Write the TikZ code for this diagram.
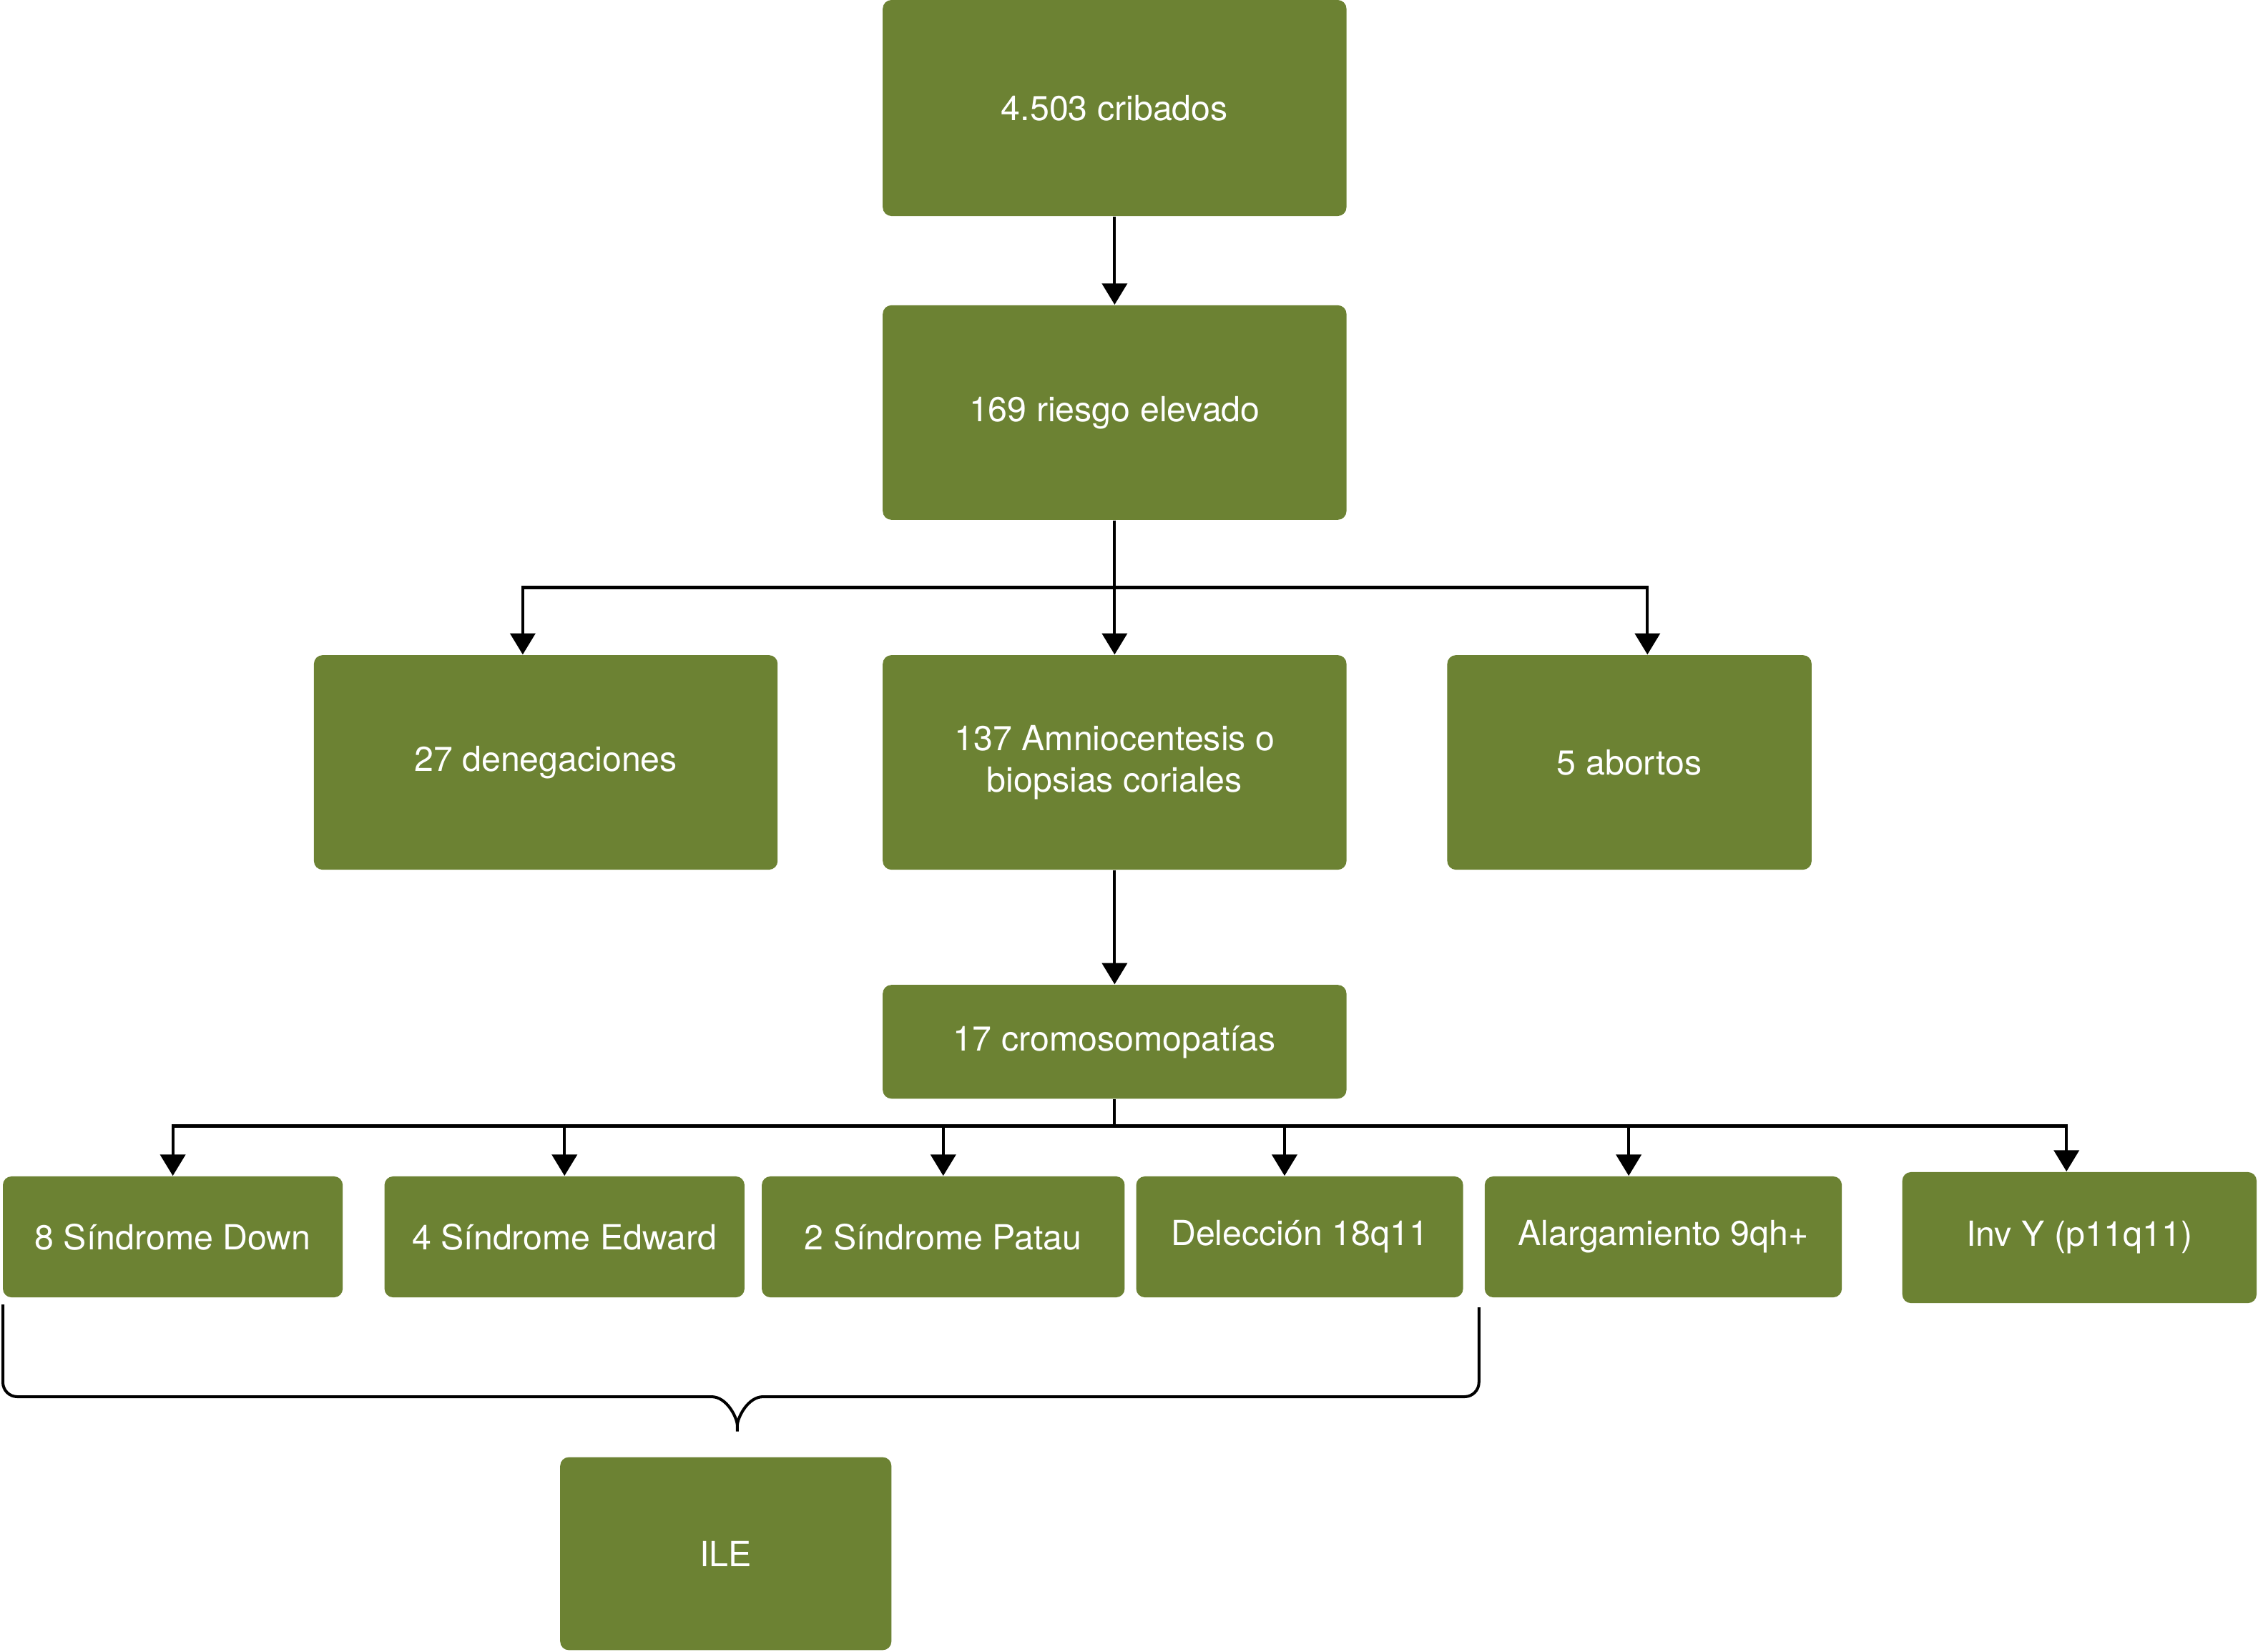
\documentclass[tikz,border=0pt]{standalone}
\usepackage{fontspec}
\setmainfont{TeX Gyre Heros}
\usetikzlibrary{arrows.meta}
\definecolor{boxgreen}{RGB}{108,130,51}
\tikzset{
  box/.style={shape=rectangle,rounded corners=3pt,fill=boxgreen,text=white,inner sep=0pt,align=center,font=\fontsize{12}{14.5}\selectfont},
  link/.style={line width=1pt,draw=black},
  flow/.style={link,-{Triangle[width=8.7pt,length=7.4pt]}},
  brace/.style={line width=1pt,draw=black,rounded corners=5pt}
}

\begin{document}
\begin{tikzpicture}[x=0.5pt,y=-0.5pt]
      \useasboundingbox (0,0) rectangle (1568,1147);
      % main column
      \node[box,minimum width=161pt,minimum height=75pt] (cribados) at (774,75) {4.503 cribados};
      \node[box,minimum width=161pt,minimum height=74.5pt] (riesgo) at (774,286.5) {169 riesgo elevado};
      \node[box,minimum width=161pt,minimum height=74.5pt] (deneg) at (379,529.5) {27 denegaciones};
      \node[box,minimum width=161pt,minimum height=74.5pt] (amnio) at (774,529.5) {137 Amniocentesis o\\biopsias coriales};
      \node[box,minimum width=126.5pt,minimum height=74.5pt] (abortos) at (1131.5,529.5) {5 abortos};
      \node[box,minimum width=161pt,minimum height=39.5pt] (cromo) at (774,723.5) {17 cromosomopatías};
      % bottom row
      \node[box,minimum width=118pt,minimum height=42pt] (down) at (120,859) {8 Síndrome Down};
      \node[box,minimum width=125pt,minimum height=42pt] (edward) at (392,859) {4 Síndrome Edward};
      \node[box,minimum width=126pt,minimum height=42pt] (patau) at (655,859) {2 Síndrome Patau};
      \node[box,minimum width=113.5pt,minimum height=42pt] (delec) at (902.5,859) {Delección 18q11};
      \node[box,minimum width=124pt,minimum height=42pt] (alarg) at (1155,859) {Alargamiento 9qh+};
      \node[box,minimum width=123pt,minimum height=45.5pt] (invy) at (1444,859.5) {Inv Y (p11q11)};
      \node[box,minimum width=115pt,minimum height=67pt] (ile) at (504,1079) {ILE};
      \coordinate (split1) at (774,408);
      \coordinate (split2) at (774,782);
      \draw[flow] (cribados) -- (riesgo);
      \draw[link] (riesgo) -- (split1);
      \draw[flow] (split1) -| ([xshift=-8pt]deneg.north);
      \draw[flow] (split1) -- (amnio);
      \draw[flow] (split1) -| ([xshift=6.25pt]abortos.north);
      \draw[flow] (amnio) -- (cromo);
      \draw[link] (cromo) -- (split2);
      \foreach \n/\s in {down/0,edward/0,patau/0,delec/-5.25,alarg/-12,invy/-4.5}
        \draw[flow] (split2) -| ([xshift=\s pt]\n.north);
      % brace over the ILE group
      \coordinate (tip) at (512,1000);
      \draw[brace] (2,906) -- (2,970) -- (484,970) .. controls (505,970) and (512,985) .. (tip)
        .. controls (512,985) and (519,970) .. (540,970) -- (1027,970) -- (1027,908);
\end{tikzpicture}
\end{document}
